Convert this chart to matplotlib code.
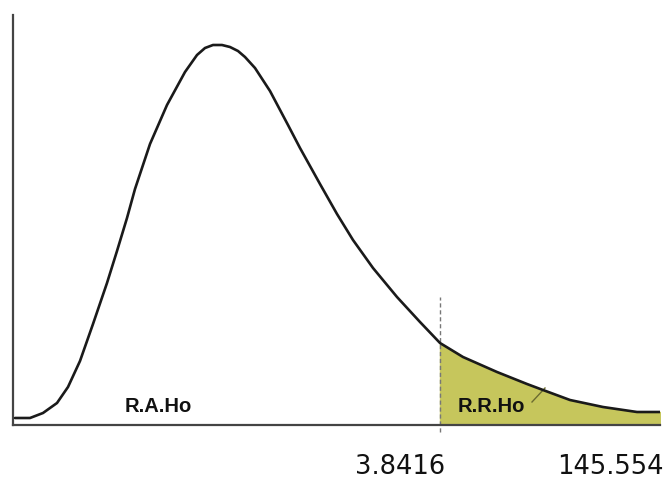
import numpy as np
import matplotlib
matplotlib.use("Agg")
from matplotlib import pyplot as plt

# curve (x: distance from left axis, y: height above bottom axis)
curve_x = [2, 17, 30, 44, 55, 67, 80, 94, 104, 114, 122, 137, 154, 172, 184,
           192, 200, 209, 217, 225, 232, 242, 257, 275, 287, 307, 324, 340,
           360, 384, 407, 427, 450, 484, 514, 530, 557, 590, 624, 647]
curve_y = [7, 7, 12, 22, 38, 64, 101, 142, 174, 207, 236, 281, 320, 353, 370,
           377, 380, 380, 378, 374, 368, 357, 334, 300, 277, 241, 211, 185,
           157, 128, 103, 82, 68, 53, 41, 35, 25, 18, 13, 13]

crit_x = 427          # dashed line position
tick_pos = [387, 597]
tick_labels = ["3.8416", "145.554"]
region_labels = ["R.A.Ho", "R.R.Ho"]
region_pos = [(145, 19), (478, 18)]

x = np.array(curve_x)
y = np.array(curve_y)

fig = plt.figure(figsize=(6.72, 4.84), dpi=100)
ax = fig.add_axes([13/672, 59/484, 647/672, 410/484])
ax.set_xlim(0, 647)
ax.set_ylim(0, 410)

mask = x >= crit_x
ax.fill_between(x[mask], 0, y[mask], color="#c6c65c", zorder=1)
ax.plot(x, y, color="#1a1a1a", lw=1.9, zorder=3,
        solid_capstyle="round", solid_joinstyle="round")

ax.plot([crit_x, crit_x], [-7, 128], color="#777777", lw=1, ls=(0, (3, 2)),
        clip_on=False, zorder=2)
ax.plot([519, 532], [23, 37], color="#6b6b30", lw=1, zorder=2)

for (tx, ty), lab in zip(region_pos, region_labels):
    ax.text(tx, ty, lab, fontsize=14.5, fontweight="bold",
            family="Liberation Sans", color="#111111", ha="center", va="center")

for p, lab in zip(tick_pos, tick_labels):
    ax.text(p, -42, lab, fontsize=18.5, family="DejaVu Sans", color="#111111",
            ha="center", va="center", clip_on=False)

for s in ["top", "right"]:
    ax.spines[s].set_visible(False)
for s in ["left", "bottom"]:
    ax.spines[s].set_color("#444444")
    ax.spines[s].set_linewidth(1.6)
ax.set_xticks([])
ax.set_yticks([])

fig.savefig("out.png", dpi=100)
